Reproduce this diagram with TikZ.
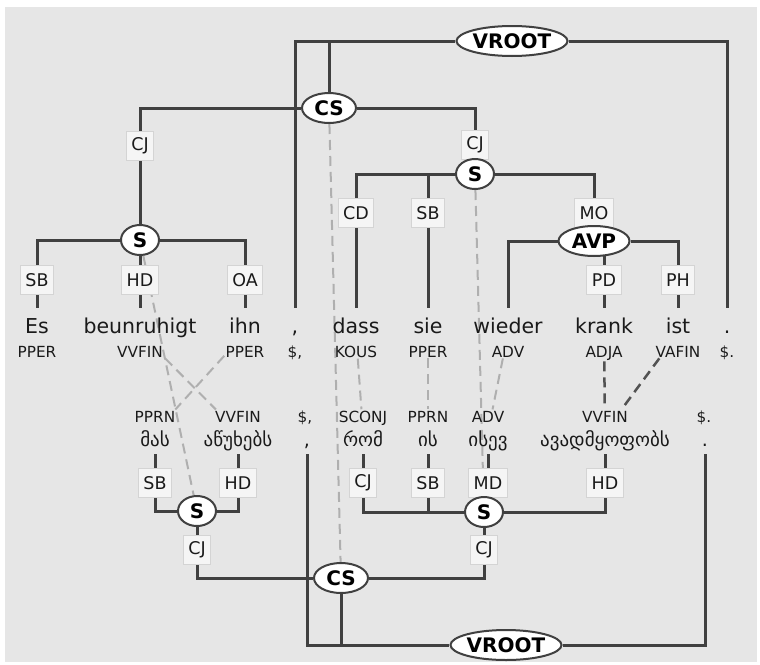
\documentclass[tikz,border=0pt]{standalone}
\usepackage{fontspec}
\setmainfont{DejaVu Sans}
\usepackage{tikz}
\usetikzlibrary{shapes.geometric,fit,calc}
\definecolor{tbg}{RGB}{230,230,230}
\definecolor{tline}{RGB}{64,64,64}
\definecolor{tlab}{RGB}{245,245,245}
\definecolor{tlabb}{RGB}{212,212,212}
\definecolor{talign}{RGB}{175,175,175}
\definecolor{talignd}{RGB}{82,82,82}
\definecolor{ttext}{RGB}{26,26,26}
\pgfdeclarelayer{back}
\pgfdeclarelayer{lines}
\pgfsetlayers{back,lines,main}
\tikzset{
  catnode/.style={ellipse,draw=tline,line width=2pt,fill=white,inner sep=0pt,
                  minimum height=30pt,font=\fontsize{20}{24}\selectfont\bfseries},
  edgelab/.style={rectangle,draw=tlabb,line width=1pt,fill=tlab,minimum height=29pt,
                  inner xsep=5pt,text=ttext,font=\fontsize{17.5}{20}\selectfont},
  wrd/.style={anchor=base,inner sep=0pt,text height=15pt,text depth=4pt,text=ttext},
  wup/.style={wrd,outer ysep=10pt,font=\fontsize{20.5}{24}\selectfont},
  wdn/.style={wrd,outer ysep=4pt,font=\fontsize{19}{23}\selectfont},
  postag/.style={anchor=base,inner sep=1pt,text=ttext,font=\fontsize{15.3}{18}\selectfont},
  tok/.style={inner sep=0pt},
  tedge/.style={tline,line width=3pt},
  alin/.style={talign,line width=2pt,dash pattern=on 10pt off 6pt},
  alind/.style={talignd,line width=2.5pt,dash pattern=on 10pt off 6pt},
}
\begin{document}
\begin{tikzpicture}[x=1pt,y=-1pt]
  \useasboundingbox (0,0) rectangle (760,664);
  \begin{pgfonlayer}{back}
    \fill[white] (0,0) rectangle (760,664);
    \fill[tbg] (5,7) rectangle (757,662);
  \end{pgfonlayer}

  % German tree
  \node[catnode,minimum width=104pt] (vr1) at (512,41) {VROOT};
  \node[catnode,minimum width=54pt] (cs1) at (329,108) {CS};
  \node[edgelab] (cj1) at (140,146) {CJ};
  \node[edgelab] (cj2) at (475,145) {CJ};
  \node[catnode,minimum width=38pt] (s1) at (140,240) {S};
  \node[catnode,minimum width=38pt] (s2) at (475,174) {S};
  \node[edgelab] (sb1) at (37,280) {SB};
  \node[edgelab] (hd1) at (140,280) {HD};
  \node[edgelab] (oa1) at (245,280) {OA};
  \node[edgelab] (cd2) at (356,213) {CD};
  \node[edgelab] (sb2) at (428,213) {SB};
  \node[edgelab] (mo2) at (594,213) {MO};
  \node[catnode,minimum width=71pt] (avp) at (594,241) {AVP};
  \node[edgelab] (pd) at (604,280) {PD};
  \node[edgelab] (ph) at (678,280) {PH};

  \node[wup] (w1) at (37,333) {Es};
  \node[wup] (w2) at (140,333) {beunruhigt};
  \node[wup] (w3) at (245,333) {ihn};
  \node[wup] (w4) at (295,333) {,};
  \node[wup] (w5) at (356,333) {dass};
  \node[wup] (w6) at (428,333) {sie};
  \node[wup] (w7) at (508,333) {wieder};
  \node[wup] (w8) at (604,333) {krank};
  \node[wup] (w9) at (678,333) {ist};
  \node[wup] (w10) at (727,333) {.};
  \node[postag] (p1) at (37,357) {PPER};
  \node[postag] (p2) at (140,357) {VVFIN};
  \node[postag] (p3) at (245,357) {PPER};
  \node[postag] (p4) at (295,357) {\$,};
  \node[postag] (p5) at (356,357) {KOUS};
  \node[postag] (p6) at (428,357) {PPER};
  \node[postag] (p7) at (508,357) {ADV};
  \node[postag] (p8) at (604,357) {ADJA};
  \node[postag] (p9) at (678,357) {VAFIN};
  \node[postag] (p10) at (727,357) {\$.};

  % Georgian tree
  \node[postag] (q1) at (155,422) {PPRN};
  \node[postag] (q2) at (238,422) {VVFIN};
  \node[postag] (q3) at (305,422) {\$,};
  \node[postag] (q4) at (363,422) {SCONJ};
  \node[postag] (q5) at (428,422) {PPRN};
  \node[postag] (q6) at (488,422) {ADV};
  \node[postag] (q7) at (605,422) {VVFIN};
  \node[postag] (q8) at (704,422) {\$.};
  \node[wdn] (x1) at (155,446) {მას};
  \node[wdn] (x2) at (238,446) {აწუხებს};
  \node[wdn] (x3) at (307,446) {,};
  \node[wdn] (x4) at (363,446) {რომ};
  \node[wdn] (x5) at (428,446) {ის};
  \node[wdn] (x6) at (488,446) {ისევ};
  \node[wdn] (x7) at (605,446) {ავადმყოფობს};
  \node[wdn] (x8) at (705,446) {.};

  \node[edgelab] (sb3) at (155,483) {SB};
  \node[edgelab] (hd3) at (238,483) {HD};
  \node[edgelab] (cj4) at (363,483) {CJ};
  \node[edgelab] (sb4) at (428,483) {SB};
  \node[edgelab] (md4) at (488,483) {MD};
  \node[edgelab] (hd4) at (605,483) {HD};
  \node[catnode,minimum width=38pt] (s3) at (197,511) {S};
  \node[catnode,minimum width=38pt] (s4) at (484,512) {S};
  \node[edgelab] (cj3) at (197,550) {CJ};
  \node[edgelab] (cj5) at (484,550) {CJ};
  \node[catnode,minimum width=54pt] (cs2) at (341,578) {CS};
  \node[catnode,minimum width=104pt] (vr2) at (506,645) {VROOT};

  % tokens for the alignment lines
  \node[tok,fit=(w2)(p2)] (t2) {};
  \node[tok,fit=(w3)(p3)] (t3) {};
  \node[tok,fit=(w5)(p5)] (t5) {};
  \node[tok,fit=(w6)(p6)] (t6) {};
  \node[tok,fit=(w7)(p7)] (t7) {};
  \node[tok,fit=(w8)(p8)] (t8) {};
  \node[tok,fit=(w9)(p9)] (t9) {};
  \node[tok,fit=(q1)(x1)] (u1) {};
  \node[tok,fit=(q2)(x2)] (u2) {};
  \node[tok,fit=(q4)(x4)] (u4) {};
  \node[tok,fit=(q5)(x5)] (u5) {};
  \node[tok,fit=(q6)(x6)] (u6) {};
  \node[tok,fit=(q7)(x7)] (u7) {};

  \begin{pgfonlayer}{lines}
    % German edges
    \draw[tedge] (vr1) -| (w4);
    \draw[tedge] (vr1) -| (cs1);
    \draw[tedge] (vr1) -| (w10);
    \draw[tedge] (cs1) -| (cj1) -- (s1);
    \draw[tedge] (cs1) -| (cj2) -- (s2);
    \draw[tedge] (s1) -| (sb1) -- (w1);
    \draw[tedge] (s1) -- (hd1) -- (w2);
    \draw[tedge] (s1) -| (oa1) -- (w3);
    \draw[tedge] (s2) -| (cd2) -- (w5);
    \draw[tedge] (s2) -| (sb2) -- (w6);
    \draw[tedge] (s2) -| (mo2) -- (avp);
    \draw[tedge] (avp) -| (w7);
    \draw[tedge] (pd |- avp) -- (pd) -- (w8);
    \draw[tedge] (avp) -| (ph) -- (w9);
    % Georgian edges
    \draw[tedge] (x1) -- (sb3) |- (s3);
    \draw[tedge] (x2) -- (hd3) |- (s3);
    \draw[tedge] (s3) -- (cj3) |- (cs2);
    \draw[tedge] (x4) -- (cj4) |- (s4);
    \draw[tedge] (x5) -- (sb4) |- (s4);
    \draw[tedge] (x6) -- (md4) -- (md4 |- s4);
    \draw[tedge] (x7) -- (hd4) |- (s4);
    \draw[tedge] (s4) -- (cj5) |- (cs2);
    \draw[tedge] (x3) |- (vr2);
    \draw[tedge] (cs2) |- (vr2);
    \draw[tedge] (x8) |- (vr2);
    % alignment
    \draw[alin] (cs1) -- (cs2);
    \draw[alin] (s1) -- (s3);
    \draw[alin] (s2) -- (s4);
    \draw[alin] (t2) -- (u2);
    \draw[alin] (t3) -- (u1);
    \draw[alin] (t5) -- (u4);
    \draw[alin] (t6) -- (u5);
    \draw[alin] (t7) -- (u6);
    \draw[alind] (t8) -- (u7);
    \draw[alind] (t9) -- (u7);
  \end{pgfonlayer}
\end{tikzpicture}
\end{document}
